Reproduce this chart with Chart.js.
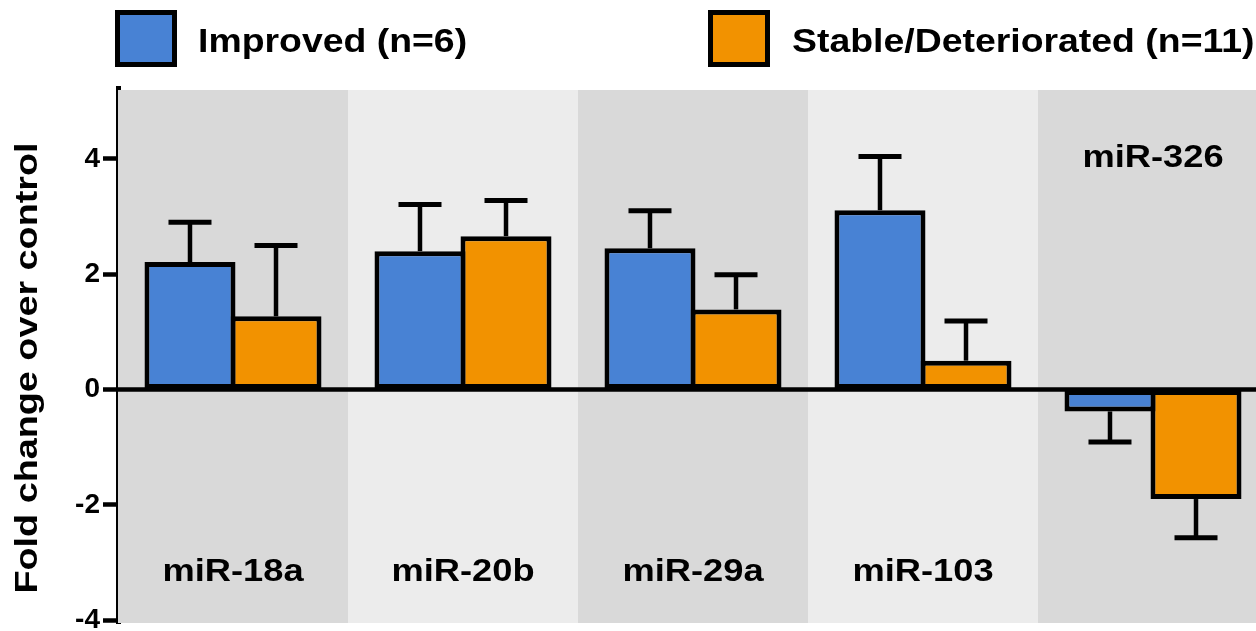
<!DOCTYPE html>
<html>
<head>
<meta charset="utf-8">
<script src="https://cdn.jsdelivr.net/npm/chart.js@4"></script>
<style>
  html, body { margin: 0; padding: 0; background: #fff; overflow: hidden; }
  canvas { display: block; }
</style>
</head>
<body>
<canvas id="chart" width="1268" height="631"></canvas>
<script>
const categories = ["miR-18a", "miR-20b", "miR-29a", "miR-103", "miR-326"];
const seriesNames = ["Improved (n=6)", "Stable/Deteriorated (n=11)"];
const improved = [2.21, 2.40, 2.45, 3.11, -0.38];
const improvedErr = [0.69, 0.81, 0.65, 0.93, 0.53];
const stable = [1.27, 2.66, 1.39, 0.50, -1.90];
const stableErr = [1.23, 0.62, 0.60, 0.69, 0.67];
const yTicks = [-4, -2, 0, 2, 4];

const BLUE = "#4882d4";
const ORANGE = "#f29200";
const FONT = "Arial, 'Liberation Sans', sans-serif";

// text in the figure is drawn a bit wider than Arial, so stretch it along the reading direction
function wideText(ctx, text, x, y, size, stretch, align, rotate) {
  ctx.save();
  ctx.translate(x, y);
  if (rotate) ctx.rotate(rotate);
  ctx.scale(stretch, 1);
  ctx.font = `bold ${size}px ${FONT}`;
  ctx.fillStyle = "#000";
  ctx.textAlign = align;
  ctx.textBaseline = "alphabetic";
  ctx.fillText(text, 0, 0);
  ctx.restore();
}

const panels = {
  id: "panels",
  beforeDatasetsDraw(chart) {
    const { ctx, chartArea, scales } = chart;
    const step = (chartArea.right - chartArea.left) / categories.length;
    ctx.save();
    categories.forEach((_, i) => {
      const x0 = scales.x.getPixelForValue(i) - step / 2;
      ctx.fillStyle = i % 2 === 0 ? "#d9d9d9" : "#ececec";
      ctx.fillRect(x0, chartArea.top + 2, step, chartArea.bottom - chartArea.top - 2);
    });
    // zero line
    const y0 = scales.y.getPixelForValue(0);
    ctx.strokeStyle = "#000";
    ctx.lineWidth = 4.5;
    ctx.beginPath();
    ctx.moveTo(chartArea.left, y0);
    ctx.lineTo(chart.width, y0);
    ctx.stroke();
    ctx.restore();
  },
};

const errorBars = {
  id: "errorBars",
  afterDatasetsDraw(chart) {
    const { ctx, scales } = chart;
    const errs = [improvedErr, stableErr];
    ctx.save();
    ctx.strokeStyle = "#000";
    chart.data.datasets.forEach((ds, d) => {
      const meta = chart.getDatasetMeta(d);
      meta.data.forEach((bar, i) => {
        const v = ds.data[i];
        const end = v + Math.sign(v) * errs[d][i];
        const yv = scales.y.getPixelForValue(v);
        const ye = scales.y.getPixelForValue(end);
        ctx.lineWidth = 4.5;
        ctx.beginPath();
        ctx.moveTo(bar.x, yv);
        ctx.lineTo(bar.x, ye);
        ctx.stroke();
        ctx.lineWidth = 5;
        ctx.beginPath();
        ctx.moveTo(bar.x - 21.5, ye);
        ctx.lineTo(bar.x + 21.5, ye);
        ctx.stroke();
      });
    });
    ctx.restore();
  },
};

const labels = {
  id: "labels",
  afterDraw(chart) {
    const { ctx, scales } = chart;
    // category names: below the bars, or above them when the bars go negative
    categories.forEach((name, i) => {
      const negative = improved[i] < 0 && stable[i] < 0;
      const y = scales.y.getPixelForValue(negative ? 3.86 : -3.32);
      wideText(ctx, name, scales.x.getPixelForValue(i), y, 31, 1.17, "center");
    });
    // y axis title
    wideText(ctx, "Fold change over control", 37, 368, 32, 1.18, "center", -Math.PI / 2);
    // legend
    const boxes = [{ x: 115, tx: 198 }, { x: 708, tx: 792 }];
    chart.data.datasets.forEach((ds, d) => {
      const b = boxes[d];
      ctx.save();
      ctx.fillStyle = "#000";
      ctx.fillRect(b.x, 10, 62, 57);
      ctx.fillStyle = ds.backgroundColor;
      ctx.fillRect(b.x + 5, 15, 52, 47);
      ctx.restore();
      wideText(ctx, ds.label, b.tx, 52, 34, 1.1, "left");
    });
  },
};

new Chart(document.querySelector("#chart"), {
  type: "bar",
  data: {
    labels: categories,
    datasets: [
      { label: seriesNames[0], data: improved, backgroundColor: BLUE },
      { label: seriesNames[1], data: stable, backgroundColor: ORANGE },
    ],
  },
  options: {
    responsive: false,
    animation: false,
    layout: { padding: { top: 88, bottom: 8, left: 0, right: 0 } },
    datasets: {
      bar: {
        borderColor: "#000",
        borderWidth: 5,
        borderSkipped: false,
        categoryPercentage: 0.748,
        barPercentage: 1.058,
      },
    },
    plugins: {
      legend: { display: false },
      tooltip: { enabled: false },
    },
    scales: {
      x: { display: false },
      y: {
        min: -4.05,
        max: 5.23,
        afterFit(scale) {
          scale.width = 118;
          scale.paddingTop = 0;
          scale.paddingBottom = 0;
        },
        afterBuildTicks(scale) {
          scale.ticks = yTicks.map((value) => ({ value }));
        },
        border: { display: true, color: "#000", width: 5 },
        grid: {
          drawOnChartArea: false,
          drawTicks: true,
          tickLength: 15,
          tickWidth: 4.5,
          tickColor: "#000",
        },
        ticks: {
          padding: 3,
          color: "#000",
          font: { family: FONT, size: 28, weight: "bold" },
        },
      },
    },
  },
  plugins: [panels, errorBars, labels],
});
</script>
</body>
</html>
